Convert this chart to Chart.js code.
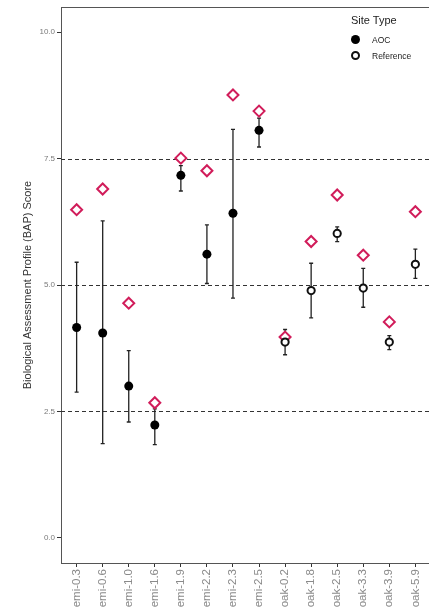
<!DOCTYPE html>
<html>
<head>
<meta charset="utf-8">
<script src="https://cdn.jsdelivr.net/npm/chart.js@4"></script>
<style>
body { margin: 0; background: #fff; overflow: hidden; }
#wrap { position: relative; width: 431px; height: 615px; }
#bap { display: block; }
#legend { position: absolute; left: 351px; top: 14px; font-family: "Liberation Sans", Arial, sans-serif; color: #222; }
#legend .title { font-size: 11px; margin-bottom: 6px; }
#legend .item { font-size: 8.5px; height: 16px; line-height: 16px; position: relative; padding-left: 21px; }
#legend .dot { position: absolute; left: 0px; top: 3px; width: 9px; height: 9px; border-radius: 50%; box-sizing: border-box; }
</style>
</head>
<body>
<div id="wrap">
	<canvas id="bap" width="431" height="615"></canvas>
	<div id="legend">
		<div class="title">Site Type</div>
		<div class="item"><span class="dot" style="background:#000"></span>AOC</div>
		<div class="item"><span class="dot" style="border:2px solid #111;background:#fff"></span>Reference</div>
	</div>
</div>
<script>
var siteLabels = ['emi-0.3', 'emi-0.6', 'emi-1.0', 'emi-1.6', 'emi-1.9', 'emi-2.2', 'emi-2.3', 'emi-2.5',
	'oak-0.2', 'oak-1.8', 'oak-2.5', 'oak-3.3', 'oak-3.9', 'oak-5.9']
var siteType = ['AOC', 'AOC', 'AOC', 'AOC', 'AOC', 'AOC', 'AOC', 'AOC',
	'Reference', 'Reference', 'Reference', 'Reference', 'Reference', 'Reference']
var meanScore = [4.16, 4.05, 3.00, 2.23, 7.17, 5.61, 6.42, 8.06, 3.87, 4.89, 6.02, 4.94, 3.87, 5.41]
var errLow = [2.88, 1.86, 2.29, 1.84, 6.86, 5.03, 4.74, 7.73, 3.62, 4.35, 5.86, 4.56, 3.72, 5.13]
var errHigh = [5.45, 6.27, 3.70, 2.55, 7.36, 6.19, 8.08, 8.30, 4.12, 5.43, 6.15, 5.33, 4.00, 5.71]
var diamondScore = [6.49, 6.90, 4.64, 2.67, 7.51, 7.26, 8.76, 8.44, 3.97, 5.86, 6.78, 5.59, 4.27, 6.45]
var yTickVals = [0, 2.5, 5, 7.5, 10]
var refLines = [2.5, 5, 7.5]

function pointsFor(type)
{
	var out = []
	for (var i = 0; i < meanScore.length; i++)
		if (siteType[i] == type) out.push({x: i, y: meanScore[i]})
	return out
}

var fontFam = '"Liberation Sans", Arial, sans-serif'

// dashed reference lines, error bars and panel frame
var extras = {
	id: 'extras',
	beforeDatasetsDraw: function(chart)
	{
		var ctx = chart.ctx
		var a = chart.chartArea
		var xs = chart.scales.x
		var ys = chart.scales.y
		ctx.save()
		ctx.strokeStyle = '#555'
		ctx.lineWidth = 1
		ctx.strokeRect(a.left + 0.5, a.top + 0.5, a.right - a.left, a.bottom - a.top)

		ctx.strokeStyle = '#333'
		ctx.setLineDash([4, 3])
		refLines.forEach(function(v)
		{
			var y = Math.round(ys.getPixelForValue(v)) + 0.5
			ctx.beginPath()
			ctx.moveTo(a.left, y)
			ctx.lineTo(a.right, y)
			ctx.stroke()
		})
		ctx.setLineDash([])

		ctx.strokeStyle = '#222'
		ctx.lineWidth = 1.3
		for (var i = 0; i < errLow.length; i++)
		{
			var x = xs.getPixelForValue(i)
			var y0 = ys.getPixelForValue(errLow[i])
			var y1 = ys.getPixelForValue(errHigh[i])
			ctx.beginPath()
			ctx.moveTo(x, y0)
			ctx.lineTo(x, y1)
			ctx.moveTo(x - 2, y0)
			ctx.lineTo(x + 2, y0)
			ctx.moveTo(x - 2, y1)
			ctx.lineTo(x + 2, y1)
			ctx.stroke()
		}
		ctx.restore()
	}
}

var bap = new Chart(document.getElementById('bap'), {
	type: 'scatter',
	data: {
		datasets: [
			{
				label: 'AOC',
				data: pointsFor('AOC'),
				pointStyle: 'circle',
				pointRadius: 4.5,
				backgroundColor: '#000',
				borderColor: '#000',
				borderWidth: 0,
				order: 1
			},
			{
				label: 'Reference',
				data: pointsFor('Reference'),
				pointStyle: 'circle',
				pointRadius: 3.6,
				backgroundColor: '#fff',
				borderColor: '#111',
				borderWidth: 2,
				order: 2
			},
			{
				label: 'diamond',
				data: diamondScore.map(function(v, i) { return {x: i, y: v} }),
				pointStyle: 'rectRot',
				pointRadius: 5.5,
				backgroundColor: '#fff',
				borderColor: '#d11c5a',
				borderWidth: 2,
				order: 3
			}
		]
	},
	options: {
		responsive: false,
		animation: false,
		layout: { autoPadding: false, padding: { top: 7, right: 0, bottom: 0, left: 0 } },
		plugins: {
			legend: { display: false },
			tooltip: { enabled: false }
		},
		scales: {
			x: {
				type: 'linear',
				min: -0.6,
				max: 13.6,
				afterBuildTicks: function(s) { s.ticks = siteLabels.map(function(l, i) { return {value: i} }) },
				afterFit: function(s) { s.height = 52; s.paddingLeft = 0; s.paddingRight = 0 },
				grid: { drawOnChartArea: false, color: '#333', tickLength: 4 },
				border: { color: '#333', width: 1 },
				ticks: {
					autoSkip: false,
					minRotation: 90,
					maxRotation: 90,
					padding: 2,
					color: '#8a8a8a',
					font: { family: fontFam, size: 11.5 },
					callback: function(v) { return siteLabels[v] }
				}
			},
			y: {
				min: -0.5,
				max: 10.5,
				afterBuildTicks: function(s) { s.ticks = yTickVals.map(function(v) { return {value: v} }) },
				afterFit: function(s) { s.width = 61; s.paddingTop = 0; s.paddingBottom = 0 },
				grid: { drawOnChartArea: false, color: '#333', tickLength: 4 },
				border: { color: '#333', width: 1 },
				ticks: {
					padding: 2,
					color: '#7a7a7a',
					font: { family: fontFam, size: 8 },
					callback: function(v) { return v.toFixed(1) }
				},
				title: {
					display: true,
					text: 'Biological Assessment Profile (BAP) Score',
					color: '#333',
					font: { family: fontFam, size: 11 },
					padding: { top: 21, bottom: 0 }
				}
			}
		}
	},
	plugins: [extras]
})
</script>
</body>
</html>
